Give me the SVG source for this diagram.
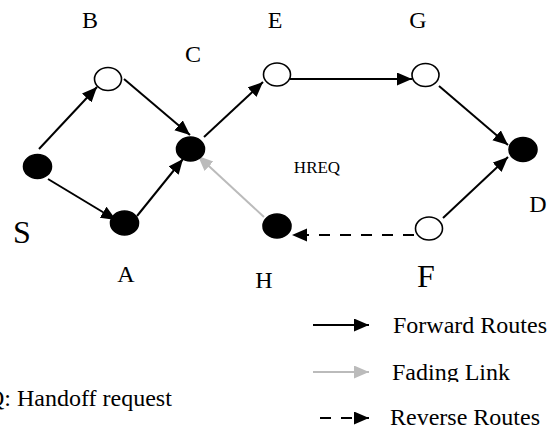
<svg xmlns="http://www.w3.org/2000/svg" width="555" height="429" viewBox="0 0 555 429">
  <style>
    .lbl { font-family: "Liberation Serif", "Times New Roman", serif; font-size: 24px; fill: #000; text-anchor: middle; }
    .big { font-size: 32px; }
    .small { font-size: 17px; }
    .leg { font-family: "Liberation Serif", "Times New Roman", serif; font-size: 24px; fill: #000; }
    .node-open { fill: #fff; stroke: #000; stroke-width: 1.6; }
    .node-fill { fill: #000; stroke: #000; stroke-width: 1.6; }
    .fwd { stroke: #000; stroke-width: 2; fill: none; marker-end: url(#head); }
    .fade { stroke: #bbbbbb; stroke-width: 2; fill: none; marker-end: url(#headGray); }
    .rev { stroke: #000; stroke-width: 2; fill: none; stroke-dasharray: 11 10; marker-end: url(#head); }
  </style>
  <defs>
    <marker id="head" markerUnits="userSpaceOnUse" markerWidth="16" markerHeight="14" refX="15" refY="6.5" orient="auto">
      <path d="M0,0 L15,6.5 L0,13 z" fill="#000"/>
    </marker>
    <marker id="headGray" markerUnits="userSpaceOnUse" markerWidth="16" markerHeight="14" refX="15" refY="6.5" orient="auto">
      <path d="M0,0 L15,6.5 L0,13 z" fill="#bbbbbb"/>
    </marker>
    <clipPath id="fadeClip">
      <rect x="380" y="350" width="175" height="32"/>
    </clipPath>
  </defs>

  <!-- connectors -->
  <g id="connectors">
    <line class="fwd" x1="39" y1="149" x2="97" y2="87"/>
    <line class="fwd" x1="124" y1="79" x2="190" y2="135"/>
    <line class="fwd" x1="48" y1="179" x2="116" y2="220"/>
    <line class="fwd" x1="137" y1="216" x2="183" y2="159"/>
    <line class="fwd" x1="204" y1="137" x2="263" y2="82"/>
    <line class="fwd" x1="290" y1="79" x2="412" y2="79"/>
    <line class="fwd" x1="439" y1="86" x2="508" y2="145"/>
    <line class="fwd" x1="443" y1="218" x2="508" y2="157"/>
    <line class="fade" x1="264" y1="217" x2="198" y2="156"/>
    <line class="rev" x1="414" y1="235" x2="292" y2="235"/>
  </g>

  <!-- nodes -->
  <g id="S">
    <ellipse class="node-fill" cx="37.5" cy="166.5" rx="14" ry="12"/>
    <text class="lbl big" x="22" y="243">S</text>
  </g>
  <g id="B">
    <ellipse class="node-open" cx="108" cy="79" rx="13.5" ry="11.5"/>
    <text class="lbl" x="90" y="28">B</text>
  </g>
  <g id="A">
    <ellipse class="node-fill" cx="124.5" cy="223" rx="14" ry="12"/>
    <text class="lbl" x="126" y="282">A</text>
  </g>
  <g id="C">
    <ellipse class="node-fill" cx="190.5" cy="149" rx="14" ry="12"/>
    <text class="lbl" x="193" y="62">C</text>
  </g>
  <g id="E">
    <ellipse class="node-open" cx="277" cy="74.5" rx="13.5" ry="11.5"/>
    <text class="lbl" x="275" y="28">E</text>
  </g>
  <g id="G">
    <ellipse class="node-open" cx="425.5" cy="75" rx="13.5" ry="11.5"/>
    <text class="lbl" x="418" y="28">G</text>
  </g>
  <g id="D">
    <ellipse class="node-fill" cx="523" cy="149.5" rx="14" ry="12"/>
    <text class="lbl" x="538" y="212">D</text>
  </g>
  <g id="H">
    <ellipse class="node-fill" cx="277" cy="226" rx="14" ry="12"/>
    <text class="lbl" x="264" y="288">H</text>
  </g>
  <g id="F">
    <ellipse class="node-open" cx="429" cy="228.5" rx="13.5" ry="11.5"/>
    <text class="lbl big" x="426" y="287">F</text>
  </g>
  <text class="lbl small" x="317" y="173">HREQ</text>

  <!-- legend -->
  <g id="legend">
    <line class="fwd" x1="313" y1="325" x2="369" y2="325"/>
    <text class="leg" x="393" y="333">Forward Routes</text>
    <line class="fade" x1="313" y1="372" x2="369" y2="372"/>
    <text class="leg" x="392" y="380" clip-path="url(#fadeClip)">Fading Link</text>
    <line class="rev" x1="320" y1="418" x2="369" y2="418" stroke-dasharray="8 9"/>
    <text class="leg" x="390" y="425">Reverse Routes</text>
    <!-- abbreviation key; starts left of the page edge -->
    <text class="leg" x="-61" y="406">HREQ: Handoff request</text>
  </g>
</svg>
